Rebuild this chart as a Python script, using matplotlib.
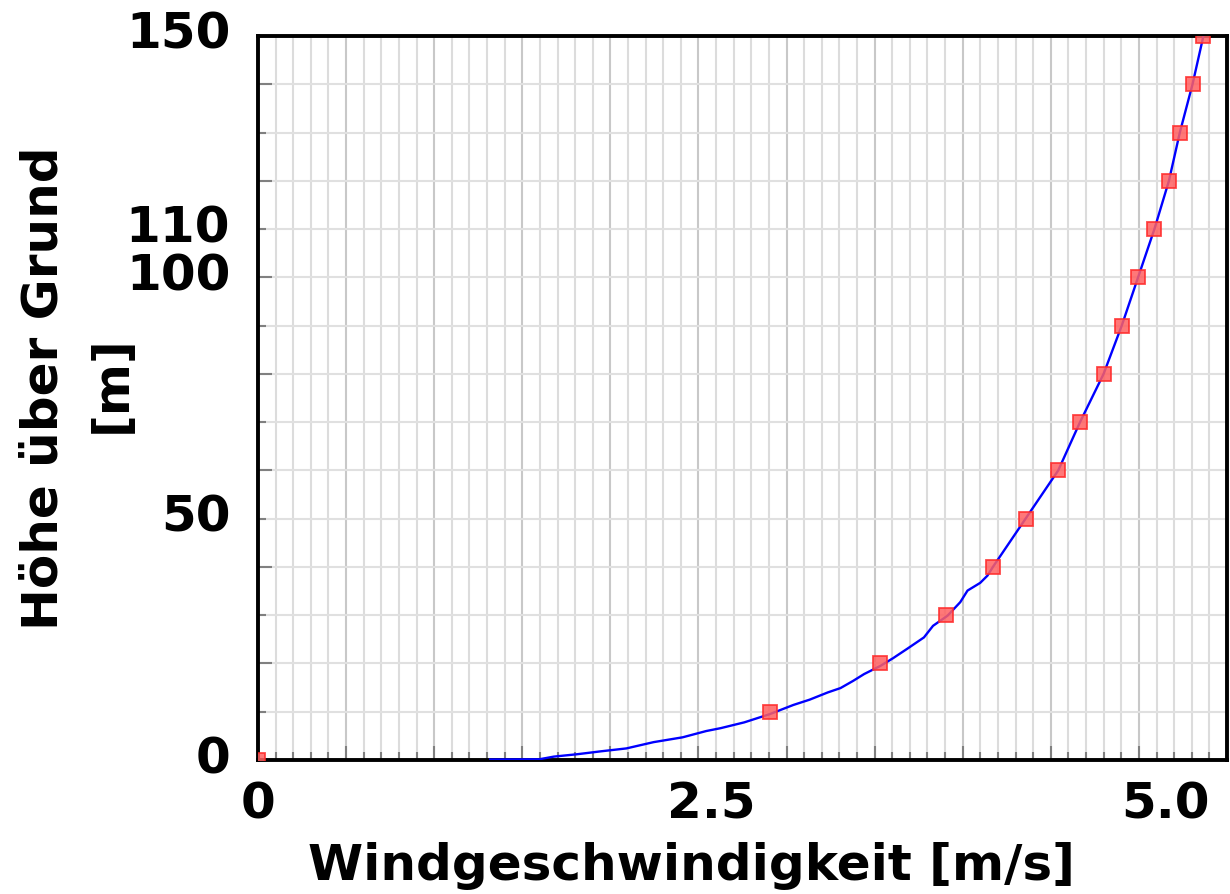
import numpy as np
import matplotlib
matplotlib.use('Agg')
import matplotlib.pyplot as plt
from matplotlib.ticker import FixedLocator
from matplotlib.transforms import ScaledTranslation

# marker values: height above ground [m] and wind speed [m/s]
marker_heights = [0, 10, 20, 30, 40, 50, 60, 70, 80, 90, 100, 110, 120, 130, 140, 150]
marker_speeds = [0, 2.82, 3.43, 3.79, 4.05, 4.23, 4.41, 4.53, 4.66, 4.76, 4.85, 4.94, 5.02, 5.08, 5.15, 5.21]

# profile line
line_heights = [0.1, 0.15, 0.7, 1.2, 1.8, 2.4, 3.7, 4.7, 6.0, 6.6, 7.8, 9.5, 11.4, 12.5, 14.0,
                14.9, 16.4, 17.8, 19.5, 21.1, 23.1, 25.4, 27.8, 29.9, 32.7, 35.1, 36.7, 38.2,
                40.0, 50, 60, 70, 80, 90, 100, 110, 120, 130, 140, 150]
line_speeds = [1.28, 1.55, 1.63, 1.76, 1.89, 2.03, 2.18, 2.34, 2.47, 2.55, 2.68, 2.82, 2.95, 3.04, 3.14,
               3.21, 3.28, 3.34, 3.43, 3.50, 3.58, 3.67, 3.72, 3.80, 3.87, 3.91, 3.98, 4.02,
               4.05, 4.23, 4.41, 4.53, 4.66, 4.76, 4.85, 4.94, 5.02, 5.08, 5.15, 5.21]

x_ticklabels = [0, 2.5, 5.0]
x_ticktexts = ['0', '2.5', '5.0']
y_ticklabels = [0, 50, 100, 110, 150]

x_max = 5.34
y_max = 150

font = dict(family=['DejaVu Sans'], weight='bold')
fs = 36

fig = plt.figure(figsize=(12.3, 8.95), dpi=100)
ax = fig.add_axes([258 / 1230, 1 - 761 / 895, 969 / 1230, 724 / 895])

ax.plot(line_speeds, line_heights, color='#0000ff', lw=1.7, zorder=3)
ax.plot(marker_speeds, marker_heights, ls='none', marker='s', ms=9.5,
        mfc='#ff6060', mec='#ff2a2a', mew=1.3, alpha=0.85, zorder=4)

ax.set_xlim(0, x_max)
ax.set_ylim(0, y_max)

# grid: 11 major / 55 minor divisions on x, 10 m steps on y
ax.xaxis.set_major_locator(FixedLocator(np.linspace(0, x_max, 12)))
ax.xaxis.set_minor_locator(FixedLocator(np.linspace(0, x_max, 56)))
ax.yaxis.set_major_locator(FixedLocator(np.arange(0, y_max + 1, 20)))
ax.yaxis.set_minor_locator(FixedLocator(np.arange(10, y_max + 1, 20)))
ax.grid(which='minor', axis='x', color='#dcdcdc', lw=1.5)
ax.grid(which='major', axis='x', color='#c8c8c8', lw=1.5)
ax.grid(which='both', axis='y', color='#e0e0e0', lw=1.5)
ax.set_axisbelow(True)

ax.tick_params(which='both', direction='in', color='#808080', width=1.5,
               labelbottom=False, labelleft=False)
ax.tick_params(which='major', length=10)
ax.tick_params(which='minor', length=6)

for s in ax.spines.values():
    s.set_linewidth(2.8)
    s.set_color('black')

secx = ax.secondary_xaxis('bottom')
secx.set_xticks(x_ticklabels)
secx.set_xticklabels(x_ticktexts)
secx.tick_params(length=0, pad=14)
secx.spines['bottom'].set_visible(False)
for t in secx.get_xticklabels():
    t.set_fontsize(fs)
    t.set(**font)

secy = ax.secondary_yaxis('left')
secy.set_yticks(y_ticklabels)
secy.tick_params(length=0, pad=20)
secy.spines['left'].set_visible(False)
shift = ScaledTranslation(0, 7 / 100, fig.dpi_scale_trans)
for t in secy.get_yticklabels():
    t.set_fontsize(fs)
    t.set(**font)
    t.set_transform(t.get_transform() + shift)

fig.text(691 / 1230, 1 - 866 / 895, 'Windgeschwindigkeit [m/s]', ha='center', va='center',
         fontsize=fs, **font)
fig.text(44 / 1230, 1 - 388 / 895, 'Höhe über Grund', ha='center', va='center',
         rotation=90, fontsize=fs, **font)
fig.text(112 / 1230, 1 - 384 / 895, '[m]', ha='center', va='center',
         rotation=90, fontsize=fs, **font)

fig.savefig('out.png', dpi=100)
